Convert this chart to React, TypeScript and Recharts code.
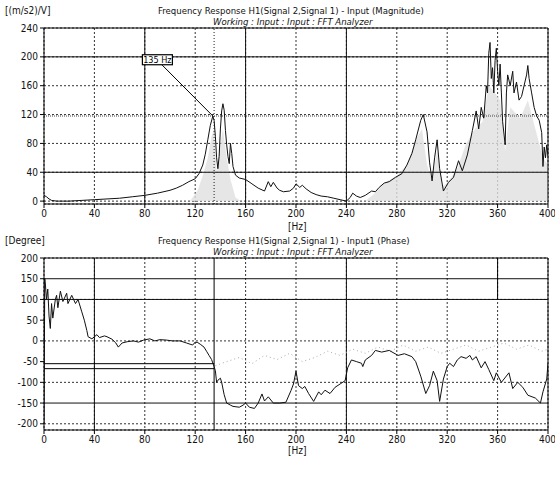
import React from 'react'
import {
  ComposedChart, Line, Area,
  XAxis, YAxis, CartesianGrid,
  ReferenceLine, ReferenceDot,
} from 'recharts'

const FONT = "'Liberation Sans Narrow', 'DejaVu Sans Condensed', 'Arial Narrow', sans-serif"

// x axis (Hz)
const HZ_TICKS = [0, 40, 80, 120, 160, 200, 240, 280, 320, 360, 400]
const MAG_TICKS = [0, 40, 80, 120, 160, 200, 240]
const PHASE_TICKS = [-200, -150, -100, -50, 0, 50, 100, 150, 200]

const CURSOR_HZ = 135
const CURSOR_MAG = 118
const CURSOR_LABEL = '135 Hz'

// magnitude, black trace [Hz, (m/s2)/V]
const MAG_POINTS = [
  [0, 8], [2, 6], [4, 3], [6, 1], [10, 0], [20, 0], [30, 1], [40, 2], [50, 3], [60, 4],
  [70, 6], [80, 8], [90, 11], [100, 15], [105, 18], [110, 22], [115, 27], [120, 31], [123, 38],
  [126, 50], [128, 65], [130, 85], [132, 105], [134, 118], [135, 112], [136, 90], [137, 60],
  [138, 45], [139, 62], [140, 100], [141, 125], [142, 135], [143, 126], [144, 98], [145, 78],
  [146, 62], [147, 52], [148, 80], [149, 66], [150, 48], [152, 36], [155, 32], [160, 30],
  [165, 24], [170, 18], [175, 14], [178, 27], [180, 20], [182, 26], [185, 18], [187, 15],
  [190, 13], [195, 14], [198, 18], [200, 24], [203, 19], [205, 22], [208, 17], [212, 12],
  [216, 9], [220, 7], [225, 6], [230, 4], [235, 2], [240, 0], [243, 5], [245, 11], [248, 7],
  [251, 5], [255, 8], [260, 14], [263, 13], [266, 19], [270, 25], [274, 27], [279, 33],
  [284, 38], [288, 50], [292, 66], [295, 85], [299, 112], [301, 120], [304, 96], [306, 54],
  [308, 28], [310, 60], [312, 85], [314, 45], [317, 14], [321, 26], [325, 33], [329, 56],
  [332, 42], [336, 64], [340, 98], [343, 125], [345, 100], [347, 130], [349, 115], [351, 160],
  [352, 150], [353, 205], [354, 220], [355, 170], [356, 185], [357, 150], [358, 195],
  [359, 212], [360, 180], [361, 160], [362, 190], [363, 150], [364, 110], [366, 78],
  [367, 150], [368, 175], [370, 160], [372, 180], [373, 150], [375, 165], [377, 140],
  [379, 145], [381, 160], [383, 175], [384, 188], [385, 170], [387, 150], [389, 130],
  [391, 118], [393, 112], [395, 95], [396, 48], [397, 75], [398, 60], [399, 78], [400, 62],
]

// magnitude, grey stippled trace
const MAG_GREY_POINTS = [
  [0, 0], [116, 0], [122, 15], [126, 35], [130, 60], [133, 90], [135, 100], [137, 40],
  [140, 80], [142, 100], [145, 60], [148, 30], [152, 5], [156, 0], [255, 0], [262, 10],
  [270, 25], [280, 35], [288, 50], [295, 85], [300, 100], [304, 50], [308, 30], [312, 70],
  [316, 20], [320, 25], [328, 45], [335, 80], [342, 100], [348, 110], [353, 160], [358, 150],
  [362, 140], [366, 70], [370, 130], [378, 115], [384, 140], [390, 100], [396, 60], [400, 50],
]

// phase, black trace [Hz, degree]
const PHASE_POINTS = [
  [0, -200], [0.6, 150], [1, 140], [2, 100], [3, 125], [4, 60], [5, 30], [6, 90], [7, 55],
  [9, 100], [10, 110], [11, 80], [13, 120], [15, 95], [18, 115], [19, 90], [22, 110],
  [25, 90], [27, 100], [30, 70], [32, 50], [34, 25], [35, 10], [38, 5], [42, 15], [44, 8],
  [48, 12], [50, 10], [54, 4], [57, -5], [59, -15], [62, -5], [66, -2], [71, 0], [75, -3],
  [79, 2], [84, 5], [88, 0], [92, 3], [97, 2], [102, 0], [108, 0], [113, -5], [118, -10],
  [120, -3], [122, -4], [124, -8], [127, -15], [129, -25], [131, -35], [133, -45], [135, -62],
  [136, -72], [137, -100], [138, -95], [140, -90], [141, -100], [143, -130], [145, -150],
  [148, -155], [150, -158], [155, -160], [158, -155], [160, -150], [163, -160], [167, -163],
  [170, -150], [173, -128], [175, -145], [178, -135], [182, -150], [187, -150], [192, -148],
  [196, -120], [198, -104], [200, -73], [202, -108], [205, -115], [207, -110], [210, -127],
  [214, -146], [218, -123], [220, -130], [223, -119], [227, -127], [231, -112], [235, -104],
  [239, -96], [241, -65], [244, -46], [248, -50], [252, -54], [253, -62], [255, -46],
  [260, -35], [263, -23], [268, -27], [274, -23], [281, -35], [286, -31], [292, -38],
  [295, -50], [299, -85], [303, -127], [306, -108], [309, -73], [312, -96], [314, -146],
  [317, -92], [320, -62], [322, -54], [325, -62], [328, -46], [331, -38], [335, -42],
  [338, -35], [340, -46], [343, -38], [347, -65], [350, -50], [353, -69], [357, -96],
  [359, -77], [363, -100], [369, -77], [372, -115], [376, -100], [380, -112], [384, -131],
  [390, -138], [394, -150], [396, -123], [399, -92], [400, -54],
]

// phase, grey speckle trace
const PHASE_GREY_POINTS = [
  [136, -60], [145, -50], [155, -40], [165, -55], [175, -35], [185, -45], [195, -30],
  [205, -50], [215, -40], [225, -25], [235, -35], [245, -20], [255, -30], [265, -15],
  [275, -25], [285, -10], [295, -25], [305, -15], [315, -30], [325, -20], [335, -10],
  [345, -25], [355, -15], [365, -5], [375, -20], [385, -10], [395, -25], [400, -20],
]

// cursor read-outs on the phase plot
const PHASE_CURSOR_LEVELS = [-55, -67]

const toRows = (pts: number[][]) => pts.map(([hz, v]) => ({ hz, v }))

const magData = toRows(MAG_POINTS)
const magGrey = toRows(MAG_GREY_POINTS)
const phaseData = toRows(PHASE_POINTS)
const phaseGrey = toRows(PHASE_GREY_POINTS)

const TICK = { fill: '#111', fontSize: 10, fontFamily: FONT }
const GRID = '#333'

const textStyle: React.CSSProperties = {
  position: 'absolute', fontSize: 10, fontFamily: FONT, color: '#111', whiteSpace: 'nowrap', lineHeight: '10px',
}

const CursorBox = (props: any) => {
  const { cx, cy } = props
  return (
    <g>
      <rect x={cx - 15} y={cy - 5} width={30} height={10} fill="#fff" stroke="#000" strokeWidth={1.2} />
      <text x={cx} y={cy + 3.5} textAnchor="middle" fontSize={9} fontFamily={FONT} fill="#000">{CURSOR_LABEL}</text>
    </g>
  )
}

const Header = ({ top, unit, title }: { top: number; unit: string; title: string }) => (
  <>
    <div style={{ ...textStyle, left: 5, top }}>{unit}</div>
    <div style={{ ...textStyle, left: 158, top, fontSize: 9.5 }}>{title}</div>
    <div style={{ ...textStyle, left: 213, top: top + 11, fontStyle: 'italic', fontSize: 9.5 }}>
      Working : Input : Input : FFT Analyzer
    </div>
  </>
)

export default function App() {
  return (
    <div style={{ position: 'absolute', left: 0, top: 0, width: 555, height: 477, background: '#fff', overflow: 'hidden' }}>
      <Header top={6} unit="[(m/s2)/V]" title="Frequency Response H1(Signal 2,Signal 1) - Input (Magnitude)" />
      <div style={{ position: 'absolute', left: 0, top: 0 }}>
        <ComposedChart width={555} height={232} margin={{ top: 28, right: 7, left: 0, bottom: 0 }}>
          <CartesianGrid stroke={GRID} strokeDasharray="2 2" />
          <XAxis type="number" dataKey="hz" domain={[0, 400]} ticks={HZ_TICKS} tick={TICK}
            tickSize={4} height={28} stroke="#000" allowDataOverflow />
          <YAxis type="number" domain={[-4, 240]} ticks={MAG_TICKS} tick={TICK}
            tickSize={4} width={44} stroke="#000" allowDataOverflow />
          <ReferenceLine y={240} stroke="#000" />
          <ReferenceLine x={400} stroke="#000" />
          <ReferenceLine y={200} stroke="#111" />
          <ReferenceLine y={40} stroke="#111" />
          <ReferenceLine x={80} stroke="#111" />
          <ReferenceLine x={160} stroke="#111" />
          <ReferenceLine x={240} stroke="#111" />
          <ReferenceLine x={CURSOR_HZ} stroke="#222" strokeDasharray="1 2" />
          <ReferenceLine y={CURSOR_MAG} stroke="#444" strokeDasharray="1 1" />
          <Area data={magGrey} dataKey="v" type="linear" stroke="none" fill="#e0e0e0"
            fillOpacity={0.8} isAnimationActive={false} />
          <Line data={magData} dataKey="v" type="linear" stroke="#111" strokeWidth={1}
            dot={false} isAnimationActive={false} />
          <ReferenceLine segment={[{ x: 93, y: 190 }, { x: CURSOR_HZ - 1, y: CURSOR_MAG }]} stroke="#000" />
          <ReferenceDot x={90} y={196} r={0} shape={CursorBox} />
        </ComposedChart>
      </div>
      <div style={{ ...textStyle, left: 288, top: 222 }}>[Hz]</div>

      <Header top={236} unit="[Degree]" title="Frequency Response H1(Signal 2,Signal 1) - Input1 (Phase)" />
      <div style={{ position: 'absolute', left: 0, top: 230 }}>
        <ComposedChart width={555} height={247} margin={{ top: 28, right: 7, left: 0, bottom: 19 }}>
          <CartesianGrid stroke={GRID} strokeDasharray="2 2" />
          <XAxis type="number" dataKey="hz" domain={[0, 400]} ticks={HZ_TICKS} tick={TICK}
            tickSize={4} height={28} stroke="#000" allowDataOverflow />
          <YAxis type="number" domain={[-215, 200]} ticks={PHASE_TICKS} tick={TICK}
            tickSize={4} width={44} stroke="#000" allowDataOverflow />
          <ReferenceLine y={200} stroke="#000" />
          <ReferenceLine x={400} stroke="#000" />
          <ReferenceLine y={150} stroke="#111" />
          <ReferenceLine y={100} stroke="#111" />
          <ReferenceLine y={-150} stroke="#111" />
          <ReferenceLine x={40} stroke="#111" />
          <ReferenceLine x={240} stroke="#111" />
          <ReferenceLine segment={[{ x: 360, y: 200 }, { x: 360, y: 100 }]} stroke="#000" />
          {PHASE_CURSOR_LEVELS.map(l => (
            <ReferenceLine key={l} segment={[{ x: 0, y: l }, { x: CURSOR_HZ, y: l }]} stroke="#000" />
          ))}
          <ReferenceLine x={CURSOR_HZ} stroke="#000" />
          <Line data={phaseGrey} dataKey="v" type="linear" stroke="#aaa" strokeWidth={1}
            strokeDasharray="1 3" dot={false} isAnimationActive={false} />
          <Line data={phaseData} dataKey="v" type="linear" stroke="#111" strokeWidth={1}
            dot={false} isAnimationActive={false} />
        </ComposedChart>
      </div>
      <div style={{ ...textStyle, left: 288, top: 446 }}>[Hz]</div>
    </div>
  )
}
